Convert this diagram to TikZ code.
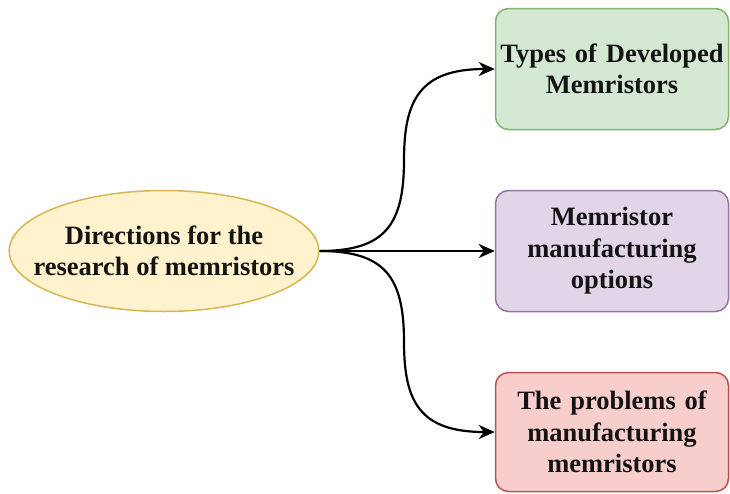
\documentclass[tikz,border=0pt]{standalone}
\usepackage{fontspec}
\setmainfont{Liberation Serif}
\usetikzlibrary{shapes.geometric,arrows.meta}
\definecolor{ylwfill}{HTML}{FFF2CC}\definecolor{ylwline}{HTML}{D6B656}
\definecolor{grnfill}{HTML}{D5E8D4}\definecolor{grnline}{HTML}{82B366}
\definecolor{prpfill}{HTML}{E1D5E7}\definecolor{prpline}{HTML}{9673A6}
\definecolor{redfill}{HTML}{F8CECC}\definecolor{redline}{HTML}{B85450}
\definecolor{txt}{HTML}{141414}
\tikzset{
  lbl/.style={font=\fontsize{26.5}{31.5}\selectfont\bfseries, text=txt, align=center},
  rootnode/.style={lbl, ellipse, draw=ylwline, fill=ylwfill, line width=1.5pt,
    minimum width=303pt, minimum height=121pt, inner xsep=-21pt, inner ysep=0pt},
  boxnode/.style={lbl, rectangle, rounded corners=13pt, line width=1.5pt,
    minimum width=233pt, minimum height=121pt, inner sep=0pt, text width=230pt},
  conn/.style={line width=2.2pt, -{Stealth[length=16pt,width=14pt,inset=5pt]}}
}
\begin{document}
\begin{tikzpicture}[x=1pt,y=-1pt]
\useasboundingbox (0,0) rectangle (730,493);
\node[rootnode] (root) at (164,251) {Directions for the\\research of memristors};
\node[boxnode, draw=grnline, fill=grnfill] (types) at (612,69) {Types of Developed\\Memristors};
\node[boxnode, draw=prpline, fill=prpfill] (options) at (612,251) {Memristor\\manufacturing\\options};
\node[boxnode, draw=redline, fill=redfill, minimum height=119pt] (problems) at (612,432) {The problems of\\manufacturing\\memristors};
\coordinate (mtop) at (404,160);
\coordinate (mbot) at (404,342);
\draw[conn] (root.east) .. controls (385,251) and (404,225) .. (mtop)
  .. controls (404,100) and (420,69) .. (types.west);
\draw[conn] (root.east) -- (options.west);
\draw[conn] (root.east) .. controls (385,251) and (404,277) .. (mbot)
  .. controls (404,402) and (420,432) .. (problems.west);
\end{tikzpicture}
\end{document}
